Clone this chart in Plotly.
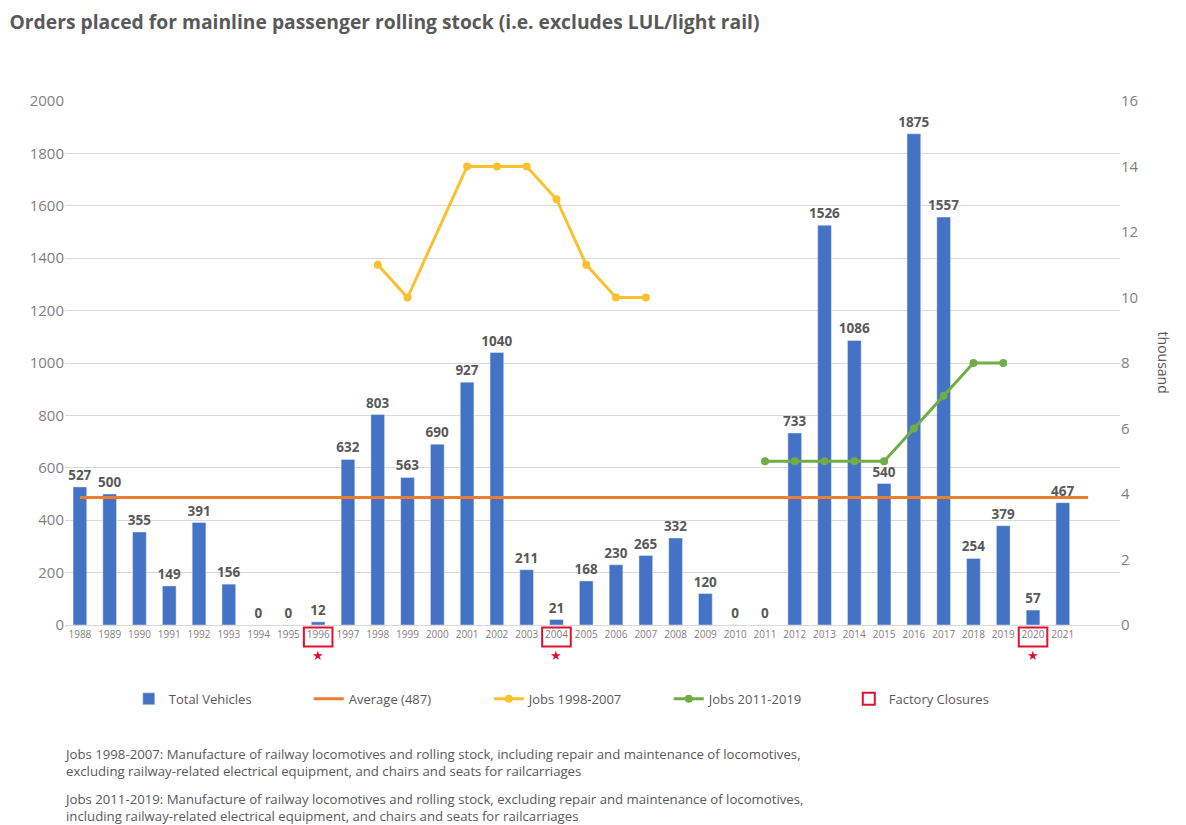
import plotly.graph_objects as go

years = [str(y) for y in range(1988, 2022)]
total_vehicles = [527, 500, 355, 149, 391, 156, 0, 0, 12, 632, 803, 563, 690, 927, 1040,
                  211, 21, 168, 230, 265, 332, 120, 0, 0, 733, 1526, 1086, 540, 1875, 1557,
                  254, 379, 57, 467]
average_value = 487
jobs_98_07_years = ["1998", "1999", "2000", "2001", "2002", "2003", "2004", "2005", "2006", "2007"]
jobs_98_07 = [11, 10, None, 14, 14, 14, 13, 11, 10, 10]
jobs_11_19_years = ["2011", "2012", "2013", "2014", "2015", "2016", "2017", "2018", "2019"]
jobs_11_19 = [5, 5, 5, 5, 5, 6, 7, 8, 8]
closure_years = ["1996", "2004", "2020"]
left_ticks = list(range(0, 2001, 200))
right_ticks = list(range(0, 17, 2))
footnotes = [
    "Jobs 1998-2007: Manufacture of railway locomotives and rolling stock, including repair and maintenance of locomotives,"
    "<br>excluding railway-related electrical equipment, and chairs and seats for railcarriages",
    "Jobs 2011-2019: Manufacture of railway locomotives and rolling stock, excluding repair and maintenance of locomotives,"
    "<br>including railway-related electrical equipment, and chairs and seats for railcarriages",
]

idx = {y: i for i, y in enumerate(years)}
xs = list(range(len(years)))

FONT = "Open Sans"
GRAY = "#595959"
BLUE = "#4472C4"
ORANGE = "#ED7D31"
YELLOW = "#FBC02D"
GREEN = "#70AD47"
RED = "#E0102E"

fig = go.Figure()
fig.add_trace(go.Bar(
    x=xs, y=total_vehicles, name="Total Vehicles", marker_color=BLUE, width=0.46,
    text=[str(v) for v in total_vehicles], textposition="outside", cliponaxis=False,
    constraintext="none",
    textfont=dict(family=FONT, size=13.5, color=GRAY, weight="bold"),
))
fig.add_trace(go.Scatter(
    x=[0, 33.85], y=[average_value, average_value], mode="lines", name="Average (487)",
    line=dict(color=ORANGE, width=3),
))
fig.add_trace(go.Scatter(
    x=[idx[y] for y in jobs_98_07_years], y=jobs_98_07, mode="lines+markers", name="Jobs 1998-2007",
    connectgaps=True, line=dict(color=YELLOW, width=3), marker=dict(size=8, color=YELLOW), yaxis="y2",
))
fig.add_trace(go.Scatter(
    x=[idx[y] for y in jobs_11_19_years], y=jobs_11_19, mode="lines+markers", name="Jobs 2011-2019",
    line=dict(color=GREEN, width=3), marker=dict(size=8, color=GREEN), yaxis="y2",
))
fig.add_trace(go.Bar(
    x=[None], y=[None], name="Factory Closures", marker=dict(color="white", line=dict(color=RED, width=2)),
))

for y in closure_years:
    i = idx[y]
    fig.add_shape(type="rect", xref="x", yref="paper", x0=i - 0.48, x1=i + 0.48, y0=-0.041, y1=-0.005,
                  line=dict(color=RED, width=2))
    fig.add_annotation(x=i, xref="x", y=-0.059, yref="paper", text="★", showarrow=False,
                       font=dict(color=RED, size=13, family="DejaVu Sans"), yanchor="middle")

fig.add_annotation(text="thousand", textangle=90, xref="paper", x=1.053, yref="paper", y=0.5,
                   showarrow=False, font=dict(family=FONT, size=14, color=GRAY))

foot_y_px = [743, 788]
for text, ypx in zip(footnotes, foot_y_px):
    fig.add_annotation(text=text, xref="paper", x=-0.003, yref="paper", y=(625 - ypx) / 524,
                       xanchor="left", yanchor="top", align="left", showarrow=False,
                       font=dict(family=FONT, size=13.2, color=GRAY))

fig.update_layout(
    width=1186, height=825,
    margin=dict(l=65, r=66, t=101, b=200),
    paper_bgcolor="white", plot_bgcolor="white",
    font=dict(family=FONT, color=GRAY),
    title=dict(text="<b>Orders placed for mainline passenger rolling stock (i.e. excludes LUL/light rail)</b>",
               x=0.008, xanchor="left", xref="container", y=0.973, yanchor="middle", yref="container",
               font=dict(family=FONT, size=19.3, color=GRAY)),
    xaxis=dict(range=[-0.5, 34.92], tickmode="array", tickvals=xs, ticktext=years,
               tickfont=dict(size=10, color="#7f7f7f"), showgrid=False, showline=True,
               linecolor="#d9d9d9", ticks="", zeroline=False),
    yaxis=dict(range=[0, 2000], tickvals=left_ticks, showgrid=True, gridcolor="#d9d9d9",
               tickfont=dict(size=15, color="#7f7f7f"), zeroline=False, ticks=""),
    yaxis2=dict(range=[0, 16], tickvals=right_ticks, overlaying="y", side="right", showgrid=False,
                tickfont=dict(size=15, color="#7f7f7f"), zeroline=False, ticks=""),
    legend=dict(orientation="h", x=0.487, xanchor="center", y=-0.141, yanchor="middle",
                font=dict(size=13, color=GRAY), entrywidth=135, entrywidthmode="pixels"),
    showlegend=True,
    bargap=0.5,
)

fig.write_html("out.html")
